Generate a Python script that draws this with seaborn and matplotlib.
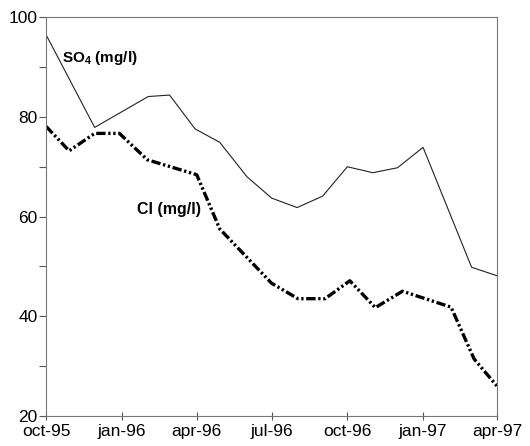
import matplotlib
matplotlib.use("Agg")
import matplotlib.pyplot as plt
import seaborn as sns
import pandas as pd

# Sulphate concentrations (mg/l) by sampling date
so4_dates = ["1995-10-01", "1995-11-29", "1996-02-02", "1996-02-28", "1996-03-30",
             "1996-04-29", "1996-06-01", "1996-07-01", "1996-08-01", "1996-09-01",
             "1996-10-01", "1996-11-01", "1996-12-01", "1997-01-01", "1997-03-01",
             "1997-04-01"]
so4_values = [96.5, 77.9, 84.1, 84.4, 77.6, 74.9, 68.0, 63.7, 61.8, 64.1,
              70.0, 68.8, 69.8, 73.9, 49.8, 48.1]

# Chloride concentrations (mg/l) by sampling date
cl_dates = ["1995-10-01", "1995-10-29", "1995-11-29", "1995-12-29", "1996-02-01",
            "1996-04-01", "1996-04-29", "1996-07-01", "1996-08-02", "1996-09-04",
            "1996-10-04", "1996-11-04", "1996-12-07", "1997-02-04", "1997-03-04",
            "1997-04-01"]
cl_values = [78.1, 73.2, 76.7, 76.7, 71.4, 68.4, 57.5, 46.6, 43.5, 43.5,
             47.1, 41.7, 45.0, 41.8, 31.4, 25.9]

tick_dates = ["1995-10-01", "1996-01-01", "1996-04-01", "1996-07-01",
              "1996-10-01", "1997-01-01", "1997-04-01"]
tick_labels = ["oct-95", "jan-96", "apr-96", "jul-96", "oct-96", "jan-97", "apr-97"]
y_ticks = [20, 40, 60, 80, 100]
y_minor_ticks = [30, 50, 70, 90]

sns.set_style("white")
plt.rcParams["font.family"] = ["Liberation Sans", "DejaVu Sans"]
plt.rcParams["mathtext.fontset"] = "custom"
plt.rcParams["mathtext.rm"] = "Liberation Sans:bold"
plt.rcParams["mathtext.bf"] = "Liberation Sans:bold"
plt.rcParams["text.color"] = "black"
plt.rcParams["xtick.color"] = "#555555"
plt.rcParams["ytick.color"] = "#555555"
plt.rcParams["xtick.labelcolor"] = "black"
plt.rcParams["ytick.labelcolor"] = "black"

so4 = pd.DataFrame({"date": pd.to_datetime(so4_dates), "value": so4_values})
cl = pd.DataFrame({"date": pd.to_datetime(cl_dates), "value": cl_values})

fig = plt.figure(figsize=(5.30, 4.46), dpi=100)
ax = fig.add_axes([0.087, 0.068, 0.851, 0.893])

sns.lineplot(data=so4, x="date", y="value", ax=ax, color="#222222", lw=0.8)
sns.lineplot(data=cl, x="date", y="value", ax=ax, color="black", lw=2.4,
             linestyle=(0, (2.8, 0.8, 0.7, 0.8, 0.7, 0.8)),
             solid_capstyle="butt", dash_capstyle="butt")

ax.set_xlim(pd.Timestamp("1995-10-01"), pd.Timestamp("1997-04-01"))
ax.set_ylim(20, 100)
ax.set_xticks(pd.to_datetime(tick_dates))
ax.set_xticklabels(tick_labels)
ax.set_yticks(y_ticks)
ax.set_yticks(y_minor_ticks, minor=True)
ax.set_xlabel("")
ax.set_ylabel("")

ax.tick_params(axis="x", which="major", bottom=True, direction="inout", length=6,
               width=0.8, labelsize=12.5, pad=3)
ax.tick_params(axis="y", which="major", left=True, direction="out", length=5,
               width=0.8, labelsize=12.5, pad=1)
ax.tick_params(axis="y", which="minor", left=True, direction="out", length=5,
               width=0.8)

for side in ["left", "right", "top", "bottom"]:
    ax.spines[side].set_visible(True)
    ax.spines[side].set_color("#777777")
    ax.spines[side].set_linewidth(0.8)

ax.text(pd.Timestamp("1995-10-20"), 91.0, r"SO$_4$ (mg/l)", fontsize=11,
        fontweight="bold", ha="left", va="baseline", color="black")
ax.text(pd.Timestamp("1996-01-20"), 60.5, "Cl (mg/l)", fontsize=11.5,
        fontweight="bold", ha="left", va="baseline", color="black")

fig.savefig("out.png", dpi=100, facecolor="white")
